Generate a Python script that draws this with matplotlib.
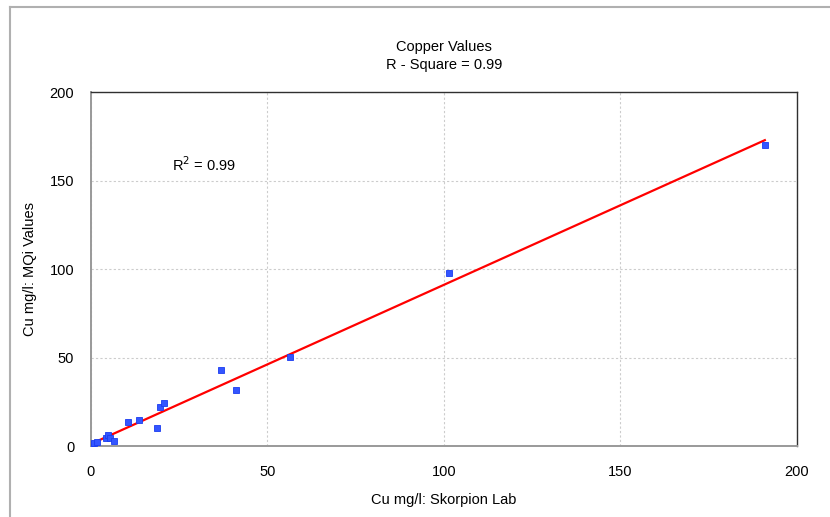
import numpy as np
import matplotlib.pyplot as plt
from matplotlib.lines import Line2D

plt.rcParams['font.family'] = ['Liberation Sans', 'DejaVu Sans']

# Cu mg/l: Skorpion Lab vs Cu mg/l: MQi Values
lab_values = [0.3, 1.0, 1.8, 4.4, 4.8, 5.5, 6.4, 10.4, 13.5, 18.8,
              19.5, 20.6, 36.8, 41.0, 56.4, 101.4, 190.9]
mqi_values = [0.9, 1.5, 2.2, 4.5, 6.2, 4.3, 2.8, 13.6, 14.5, 10.2,
              22.0, 24.5, 42.8, 31.8, 50.3, 97.7, 170.0]
x_ticks = [0, 50, 100, 150, 200]
y_ticks = [0, 50, 100, 150, 200]


def main():
    x = np.array(lab_values)
    y = np.array(mqi_values)
    slope, intercept = np.polyfit(x, y, 1)
    r2 = np.corrcoef(x, y)[0, 1] ** 2
    print(slope, intercept, r2)

    fig = plt.figure(figsize=(8.3, 5.17), dpi=100)
    ax = fig.add_axes([0.1096, 0.1373, 0.8506, 0.6847])

    # grey frame round the chart (top and left only visible)
    fig.add_artist(Line2D([0.0115, 0.0115], [0.0, 0.987],
                          transform=fig.transFigure, color='#b0b0b0', lw=1.5))
    fig.add_artist(Line2D([0.0115, 1.0], [0.987, 0.987],
                          transform=fig.transFigure, color='#b0b0b0', lw=1.5))

    fit_x = np.array([x.min(), x.max()])
    ax.plot(fit_x, slope * fit_x + intercept, color='#ff0000', lw=1.6,
            zorder=3)
    ax.plot(x, y, linestyle='none', marker='s', markersize=4.2,
            markerfacecolor='#3355ff', markeredgecolor='#1a3cf0',
            markeredgewidth=0.6, zorder=4)

    ax.set_xlim(0, 200)
    ax.set_ylim(0, 200)
    ax.set_xticks(x_ticks)
    ax.set_yticks(y_ticks)
    ax.grid(True, color='#cccccc', linestyle=(0, (2, 2)), lw=0.8)
    ax.set_axisbelow(True)
    ax.tick_params(length=0, labelsize=10.5, colors='black')
    ax.tick_params(axis='x', pad=14)
    ax.tick_params(axis='y', pad=12)
    for side in ['top', 'right']:
        ax.spines[side].set_color('#303030')
        ax.spines[side].set_linewidth(1.0)
    for side in ['left', 'bottom']:
        ax.spines[side].set_color('#999999')
        ax.spines[side].set_linewidth(1.4)

    ax.text(23, 159, "R$^2$ = 0.99", fontsize=10.5, ha='left',
            va='center')

    fig.text(0.535, 0.910, "Copper Values", ha='center', va='center',
             fontsize=10.5)
    fig.text(0.535, 0.875, "R - Square = 0.99", ha='center',
             va='center', fontsize=10.5)
    fig.text(0.535, 0.033, "Cu mg/l: Skorpion Lab", ha='center',
             va='center', fontsize=10.5)
    fig.text(0.036, 0.48, "Cu mg/l: MQi Values", ha='center',
             va='center', rotation=90, fontsize=10.5)

    fig.savefig("out.png", dpi=100)


if __name__ == "__main__":
    main()
